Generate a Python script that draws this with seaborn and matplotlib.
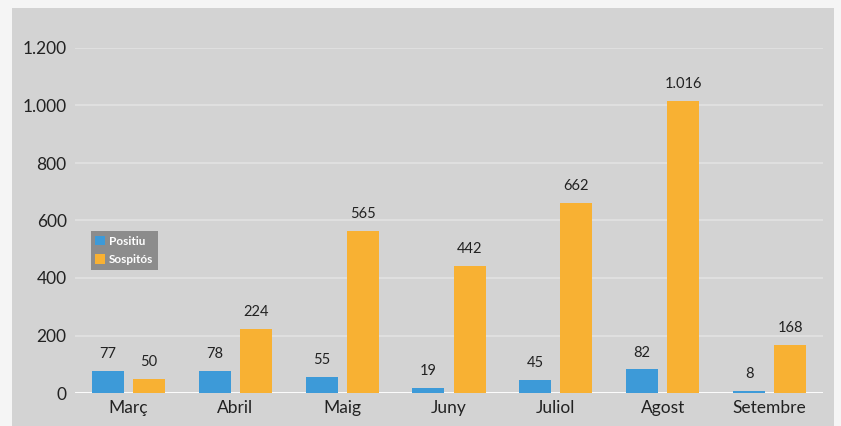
import numpy as np
import pandas as pd
import matplotlib
matplotlib.use("Agg")
import matplotlib.pyplot as plt
import matplotlib.patches as mpatches
import seaborn as sns

# data
mesos = ['Març', 'Abril', 'Maig', 'Juny', 'Juliol', 'Agost', 'Setembre']
positiu = [77, 78, 55, 19, 45, 82, 8]
sospitos = [50, 224, 565, 442, 662, 1016, 168]
series = ['Positiu', 'Sospitós']
colors = ['#3d9ad8', '#f8b133']
yticks = [0, 200, 400, 600, 800, 1000, 1200]

df = pd.DataFrame({
    'mes': mesos * 2,
    'serie': ['Positiu'] * len(mesos) + ['Sospitós'] * len(mesos),
    'valor': positiu + sospitos,
})

def fmt(v):
    return f'{v:,}'.replace(',', '.')

sns.set_style('white')
plt.rcParams['font.family'] = ['Lato', 'DejaVu Sans']

fig = plt.figure(figsize=(8.41, 4.26), dpi=100)
fig.patch.set_facecolor('#f5f5f5')
# grey panel behind the chart
fig.add_artist(mpatches.Rectangle((12 / 841, 0), (834 - 12) / 841, 1 - 8 / 426,
                                  transform=fig.transFigure, facecolor='#d3d3d3',
                                  edgecolor='none', zorder=0))

ax = fig.add_axes([75 / 841, 1 - 393 / 426, 748 / 841, 345 / 426])
ax.set_facecolor('none')

sns.barplot(data=df, x='mes', y='valor', hue='serie', hue_order=series,
            palette=colors, width=0.77, gap=0.22, saturation=1, linewidth=0,
            ax=ax, zorder=3)

for cont in ax.containers:
    labels = [fmt(int(b.get_height())) for b in cont]
    ax.bar_label(cont, labels=labels, padding=7, fontsize=10.5, color='#222222')

ax.set_ylim(0, 1200)
ax.set_xlim(-0.5, len(mesos) - 0.5)
ax.set_yticks(yticks)
ax.set_yticklabels([fmt(t) for t in yticks], fontsize=12.5, color='#222222')
ax.tick_params(axis='x', labelsize=12.5, colors='#222222', length=0, pad=5)
ax.tick_params(axis='y', length=0, pad=6)
ax.set_xlabel('')
ax.set_ylabel('')
ax.grid(axis='y', color='#e2e2e2', linewidth=1.2, zorder=0)
ax.axhline(0, color='white', linewidth=2, zorder=2)
for s in ax.spines.values():
    s.set_visible(False)

handles = [mpatches.Patch(facecolor=c, edgecolor='none') for c in colors]
leg = ax.legend(handles, series, loc='lower left', bbox_to_anchor=(0.021, 0.357),
                borderaxespad=0, frameon=True, fancybox=False, handlelength=0.8,
                handleheight=0.8, handletextpad=0.35, borderpad=0.4,
                labelspacing=0.6, prop={'size': 8.5, 'weight': 'bold'})
leg.get_frame().set_facecolor('#8c8c8c')
leg.get_frame().set_edgecolor('none')
leg.get_frame().set_alpha(1)
for t in leg.get_texts():
    t.set_color('white')

fig.savefig('out.png', dpi=100, facecolor=fig.get_facecolor())
